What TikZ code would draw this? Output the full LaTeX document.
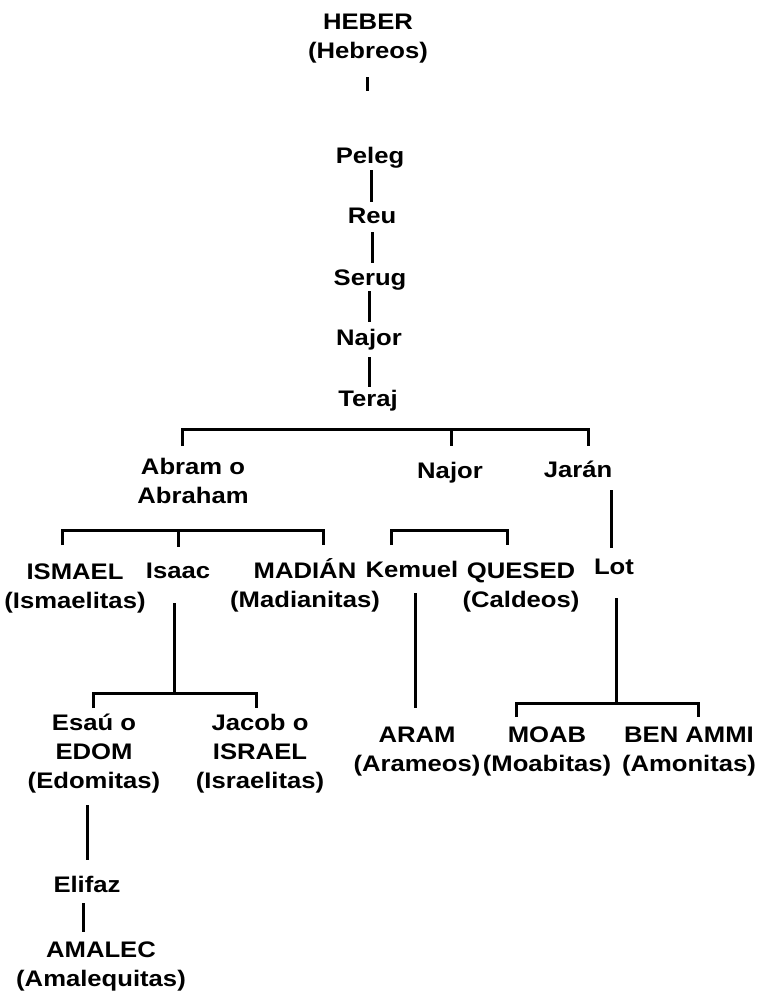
\documentclass[tikz,border=0pt]{standalone}
\usepackage{fontspec}
\setmainfont{Liberation Sans}[FakeStretch=1.14]
\begin{document}
\begin{tikzpicture}[x=1pt,y=-1pt,
  lab/.style={anchor=base, inner sep=0pt, align=center, font=\fontsize{22.5}{29}\selectfont\bfseries},
  ln/.style={line width=3pt}]
\useasboundingbox[fill=white] (0,0) rectangle (758,998);
% nodes (anchor = baseline of the last line)
\node[lab] (heber) at (368,59) {HEBER\\(Hebreos)};
\node[lab] (peleg) at (370,163) {Peleg};
\node[lab] (reu) at (372,223) {Reu};
\node[lab] (serug) at (370,285) {Serug};
\node[lab] (najor1) at (369,345) {Najor};
\node[lab] (teraj) at (368,406) {Teraj};
\node[lab] (abram) at (193,503) {Abram o\\Abraham};
\node[lab] (najor2) at (450,478) {Najor};
\node[lab] (jaran) at (578,477) {Jarán};
\node[lab] (ismael) at (75,608) {ISMAEL\\(Ismaelitas)};
\node[lab] (isaac) at (178,578) {Isaac};
\node[lab] (madian) at (305,607) {MADIÁN\\(Madianitas)};
\node[lab] (kemuel) at (412,577) {Kemuel};
\node[lab] (quesed) at (521,607) {QUESED\\(Caldeos)};
\node[lab] (lot) at (614,574) {Lot};
\node[lab] (esau) at (94,788) {Esaú o\\EDOM\\(Edomitas)};
\node[lab] (jacob) at (260,788) {Jacob o\\ISRAEL\\(Israelitas)};
\node[lab] (aram) at (417,771) {ARAM\\(Arameos)};
\node[lab] (moab) at (547,771) {MOAB\\(Moabitas)};
\node[lab] (benammi) at (689,771) {BEN AMMI\\(Amonitas)};
\node[lab] (elifaz) at (87,892) {Elifaz};
\node[lab] (amalec) at (101,986) {AMALEC\\(Amalequitas)};
% coordinates
\coordinate (h1) at (367,77); \coordinate (h2) at (367,91);
\coordinate (p1) at (371,170); \coordinate (p2) at (371,202);
\coordinate (r1) at (372,232); \coordinate (r2) at (372,263);
\coordinate (s1) at (369,291); \coordinate (s2) at (369,322);
\coordinate (n1) at (369,357); \coordinate (n2) at (369,387);
\coordinate (tA) at (182,446); \coordinate (tB) at (182,429); \coordinate (tC) at (588,429); \coordinate (tD) at (588,446);
\coordinate (tM1) at (451,429); \coordinate (tM2) at (451,446);
\coordinate (aA) at (62,545); \coordinate (aB) at (62,530); \coordinate (aC) at (323,530); \coordinate (aD) at (323,545);
\coordinate (aM1) at (178,530); \coordinate (aM2) at (178,547);
\coordinate (kA) at (391,545); \coordinate (kB) at (391,530); \coordinate (kC) at (507,530); \coordinate (kD) at (507,545);
\coordinate (j1) at (611,490); \coordinate (j2) at (611,548);
\coordinate (i1) at (174,603); \coordinate (i2) at (174,693);
\coordinate (iA) at (93,708); \coordinate (iB) at (93,693); \coordinate (iC) at (256,693); \coordinate (iD) at (256,708);
\coordinate (k1) at (415,593); \coordinate (k2) at (415,708);
\coordinate (l1) at (616,598); \coordinate (l2) at (616,703);
\coordinate (lA) at (516,717); \coordinate (lB) at (516,703); \coordinate (lC) at (698,703); \coordinate (lD) at (698,717);
\coordinate (e1) at (87,805); \coordinate (e2) at (87,860);
\coordinate (f1) at (83,903); \coordinate (f2) at (83,932);
% connectors
\draw[ln] (h1) -- (h2);
\draw[ln] (p1) -- (p2);
\draw[ln] (r1) -- (r2);
\draw[ln] (s1) -- (s2);
\draw[ln] (n1) -- (n2);
\draw[ln] (tA) -- (tB) -- (tC) -- (tD);
\draw[ln] (tM1) -- (tM2);
\draw[ln] (aA) -- (aB) -- (aC) -- (aD);
\draw[ln] (aM1) -- (aM2);
\draw[ln] (kA) -- (kB) -- (kC) -- (kD);
\draw[ln] (j1) -- (j2);
\draw[ln] (i1) -- (i2);
\draw[ln] (iA) -- (iB) -- (iC) -- (iD);
\draw[ln] (k1) -- (k2);
\draw[ln] (l1) -- (l2);
\draw[ln] (lA) -- (lB) -- (lC) -- (lD);
\draw[ln] (e1) -- (e2);
\draw[ln] (f1) -- (f2);
\end{tikzpicture}
\end{document}
